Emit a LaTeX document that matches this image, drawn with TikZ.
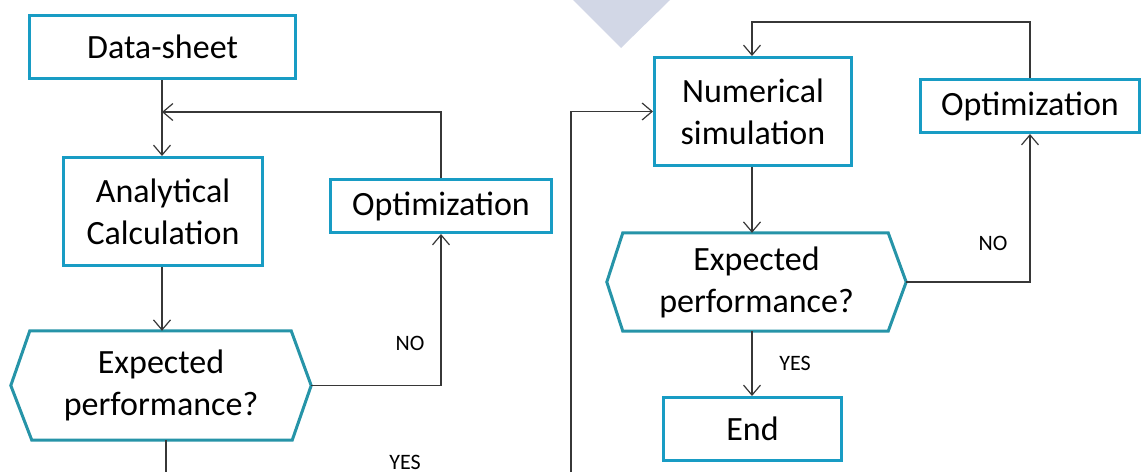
\documentclass[tikz,border=0pt]{standalone}
\usepackage{fontspec}
\setmainfont{Carlito}
\usetikzlibrary{arrows.meta}
\definecolor{boxc}{RGB}{24,156,196}
\definecolor{hexc}{RGB}{38,148,168}
\definecolor{linec}{RGB}{55,55,55}
\definecolor{tric}{RGB}{210,215,230}
\tikzset{
  box/.style={draw=boxc, line width=3pt, fill=white, inner sep=0pt, align=center,
    font=\fontsize{34}{42}\selectfont},
  hexnode/.style={inner sep=0pt, align=center, font=\fontsize{34}{42}\selectfont},
  hexborder/.style={draw=hexc, line width=3pt, fill=white, line join=miter},
  conn/.style={draw=linec, line width=1.2pt},
  arr/.style={conn, -{Straight Barb[length=10pt,width=17pt,line width=1.2pt]}},
  lbl/.style={font=\fontsize{22}{24}\selectfont, inner sep=0pt}
}
\begin{document}
\begin{tikzpicture}[x=1pt,y=-1pt]
\useasboundingbox (0,0) rectangle (1141,472);
% decorative triangle
\fill[tric] (573,0) -- (670,0) -- (621,48) -- cycle;

% left chart
\node[box, minimum width=266pt, minimum height=63pt] (ds) at (162.5,47) {Data-sheet};
\node[box, minimum width=199pt, minimum height=108pt] (ac) at (163,211.5) {Analytical\\Calculation};
\node[box, minimum width=221pt, minimum height=53pt] (op1) at (441,206) {Optimization};
\node[hexnode, minimum width=300pt, minimum height=109pt] (h1) at (161,385.5) {Expected\\performance?};
\draw[hexborder] (h1.west) -- ([xshift=19pt]h1.north west) -- ([xshift=-20pt]h1.north east) -- (h1.east)
  -- ([xshift=-19pt]h1.south east) -- ([xshift=21pt]h1.south west) -- cycle;
\node[hexnode] at (h1.center) {Expected\\performance?};

\coordinate (j1) at (162,112);
\coordinate (b1) at (166,472);
\draw[arr] (ds.south -| j1) -- (ac.north -| j1);
\draw[arr] (op1.north) |- (j1);
\draw[arr] (ac.south -| j1) -- (h1.north -| j1);
\draw[arr] (h1.east) -| (op1.south);
\draw[conn] (b1 |- h1.south) -- (b1);
\node[lbl] (no1) at (410,343) {NO};
\node[lbl] (yes1) at (405,462) {YES};

% right chart
\node[box, minimum width=197pt, minimum height=108pt] (ns) at (753,111.5) {Numerical\\simulation};
\node[box, minimum width=219pt, minimum height=53pt] (op2) at (1030,106) {Optimization};
\node[hexnode, minimum width=299pt, minimum height=98pt] (h2) at (756.5,282) {Expected\\performance?};
\draw[hexborder] (h2.west) -- ([xshift=16pt]h2.north west) -- ([xshift=-18pt]h2.north east) -- (h2.east)
  -- ([xshift=-18pt]h2.south east) -- ([xshift=16pt]h2.south west) -- cycle;
\node[hexnode] at (h2.center) {Expected\\performance?};
\node[box, minimum width=178pt, minimum height=63pt] (end) at (752.5,429) {End};

\coordinate (j2) at (752,22);
\coordinate (b2) at (571,472);
\draw[arr] (b2) |- (ns.west);
\draw[arr] (op2.north) |- (j2) -- (ns.north -| j2);
\draw[arr] (ns.south -| j2) -- (h2.north -| j2);
\draw[arr] (h2.east) -| (op2.south);
\draw[arr] (h2.south -| j2) -- (end.north -| j2);
\node[lbl] (no2) at (993,243) {NO};
\node[lbl] (yes2) at (795,363) {YES};
\end{tikzpicture}
\end{document}
